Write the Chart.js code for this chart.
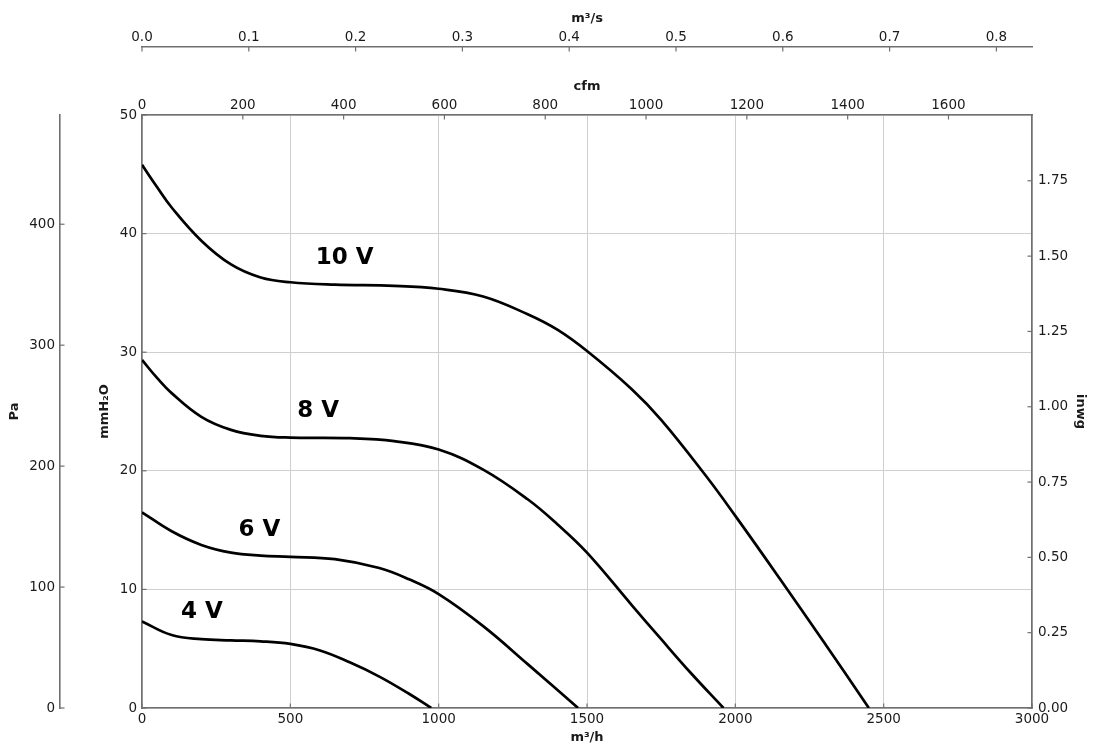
<!DOCTYPE html>
<html>
<head>
<meta charset="utf-8">
<title>Fan curves</title>
<script src="https://cdn.jsdelivr.net/npm/chart.js@4.4.0/dist/chart.umd.min.js"></script>
<style>
  html, body { margin: 0; padding: 0; background: #fff; overflow: hidden; }
  #wrap { width: 1096px; height: 749px; }
</style>
</head>
<body>
<div id="wrap"><canvas id="fanChart"></canvas></div>
<script>
// airflow in m³/h, static pressure in mmH2O
const flow10 = [0, 50, 100, 200, 300, 400, 500, 650, 850, 1000, 1150, 1300, 1400, 1500, 1650, 1750, 1900, 2000, 2150, 2300, 2450];
const pres10 = [45.8, 43.95, 42.2, 39.4, 37.4, 36.3, 35.9, 35.7, 35.6, 35.35, 34.7, 33.2, 31.9, 30.1, 26.9, 24.3, 19.6, 16.2, 10.9, 5.5, 0];

const flow8 = [0, 50, 100, 200, 300, 400, 500, 700, 850, 1000, 1150, 1300, 1400, 1500, 1650, 1750, 1850, 1960];
const pres8 = [29.35, 27.85, 26.55, 24.55, 23.45, 22.95, 22.8, 22.75, 22.5, 21.8, 20.1, 17.6, 15.5, 13.1, 8.7, 5.8, 2.95, 0];

const flow6 = [0, 100, 200, 300, 400, 500, 650, 800, 900, 1000, 1150, 1300, 1470];
const pres6 = [16.5, 14.9, 13.75, 13.1, 12.85, 12.75, 12.55, 11.8, 10.85, 9.6, 6.9, 3.7, 0];

const flow4 = [0, 100, 200, 300, 400, 500, 600, 700, 800, 900, 975];
const pres4 = [7.3, 6.15, 5.8, 5.7, 5.62, 5.4, 4.85, 3.85, 2.65, 1.2, 0];

const curveNames = ["10 V", "8 V", "6 V", "4 V"];
const labelFlow = [683, 594, 396, 202];
const labelPres = [37.9, 25.0, 15.0, 8.1];

// tick labels of each axis
const flowTicks = [0, 500, 1000, 1500, 2000, 2500, 3000];
const cfmTicks = [0, 200, 400, 600, 800, 1000, 1200, 1400, 1600];
const m3sTicks = [0, 0.1, 0.2, 0.3, 0.4, 0.5, 0.6, 0.7, 0.8];
const mmTicks = [0, 10, 20, 30, 40, 50];
const paTicks = [0, 100, 200, 300, 400];
const inwgTicks = [0, 0.25, 0.5, 0.75, 1, 1.25, 1.5, 1.75];

// axis ranges
const flowMax = 3000;
const presMax = 50;
const PA_PER_MM = 9.80665;
const MM_PER_INWG = 25.4;
const M3H_PER_CFM = 1.699011;

const frameColor = "#707070";
const gridColor = "#cfcfcf";
const titleFont = { size: 13, weight: "bold" };

Chart.defaults.font.family = "'DejaVu Sans', sans-serif";
Chart.defaults.font.size = 13.5;
Chart.defaults.color = "#1a1a1a";

function points(xs, ys) {
  return xs.map((x, i) => ({ x: x, y: ys[i] }));
}

function fixedTicks(list) {
  return scale => { scale.ticks = list.map(v => ({ value: v })); };
}

// inward tick marks like the original
const tickMarks = {
  id: "tickMarks",
  afterDraw(chart) {
    const ctx = chart.ctx;
    const len = 4.5;
    ctx.save();
    ctx.strokeStyle = frameColor;
    ctx.lineWidth = 1.2;
    Object.values(chart.scales).forEach(scale => {
      const pos = scale.options.position;
      scale.ticks.forEach(t => {
        const p = scale.getPixelForValue(t.value);
        ctx.beginPath();
        if (pos === "bottom") { ctx.moveTo(p, scale.top); ctx.lineTo(p, scale.top - len); }
        else if (pos === "top") { ctx.moveTo(p, scale.bottom); ctx.lineTo(p, scale.bottom + len); }
        else if (pos === "left") { ctx.moveTo(scale.right, p); ctx.lineTo(scale.right + len, p); }
        else { ctx.moveTo(scale.left, p); ctx.lineTo(scale.left - len, p); }
        ctx.stroke();
      });
    });
    ctx.restore();
  }
};

// voltage labels next to each curve
const curveLabels = {
  id: "curveLabels",
  afterDatasetsDraw(chart) {
    const { ctx, scales: { x, y } } = chart;
    ctx.save();
    ctx.font = "bold 23px 'DejaVu Sans', sans-serif";
    ctx.fillStyle = "#000";
    ctx.textAlign = "center";
    ctx.textBaseline = "middle";
    curveNames.forEach((name, i) => {
      ctx.fillText(name, x.getPixelForValue(labelFlow[i]), y.getPixelForValue(labelPres[i]));
    });
    ctx.restore();
  }
};

function curve(data) {
  return {
    data: data,
    xAxisID: "x",
    yAxisID: "y",
    borderColor: "#000",
    borderWidth: 2.7,
    pointRadius: 0,
    fill: false,
    tension: 0.4
  };
}

const border = { display: true, color: frameColor, width: 1.6 };
const noGrid = { display: false, drawTicks: false };

new Chart(document.getElementById("fanChart"), {
  type: "line",
  data: {
    datasets: [
      curve(points(flow10, pres10)),
      curve(points(flow8, pres8)),
      curve(points(flow6, pres6)),
      curve(points(flow4, pres4))
    ]
  },
  options: {
    responsive: true,
    maintainAspectRatio: false,
    animation: false,
    layout: { padding: 0 },
    plugins: { legend: { display: false }, tooltip: { enabled: false } },
    scales: {
      x: {
        type: "linear", axis: "x", position: "bottom", weight: 0,
        min: 0, max: flowMax,
        afterBuildTicks: fixedTicks(flowTicks),
        ticks: { padding: 3, maxRotation: 0, autoSkip: false, callback: v => String(v) },
        grid: { color: gridColor, lineWidth: 1, drawTicks: false },
        border: border,
        title: { display: true, text: "m³/h", font: titleFont, padding: { top: 0, bottom: 3.9 } },
        afterFit: s => { s.height = 41; }
      },
      xCfm: {
        type: "linear", axis: "x", position: "top", weight: 0,
        min: 0, max: flowMax / M3H_PER_CFM,
        afterBuildTicks: fixedTicks(cfmTicks),
        ticks: { padding: 1, maxRotation: 0, autoSkip: false, callback: v => String(v) },
        grid: noGrid,
        border: border,
        title: { display: true, text: "cfm", font: titleFont, padding: { top: 31.9, bottom: 0 } },
        afterFit: s => { s.height = 68; }
      },
      xM3s: {
        type: "linear", axis: "x", position: "top", weight: 1,
        min: 0, max: flowMax / 3600,
        afterBuildTicks: fixedTicks(m3sTicks),
        ticks: { padding: 1, maxRotation: 0, autoSkip: false, callback: v => v.toFixed(1) },
        grid: noGrid,
        border: border,
        title: { display: true, text: "m³/s", font: titleFont, padding: { top: 10.5, bottom: 0 } },
        afterFit: s => { s.height = 47; }
      },
      y: {
        type: "linear", axis: "y", position: "left", weight: 0,
        min: 0, max: presMax,
        afterBuildTicks: fixedTicks(mmTicks),
        ticks: { padding: 5, autoSkip: false, callback: v => String(v) },
        grid: { color: gridColor, lineWidth: 1, drawTicks: false },
        border: border,
        title: { display: true, text: "mmH₂O", font: titleFont, padding: { top: 37.2, bottom: 0 } },
        afterFit: s => { s.width = 82; }
      },
      yPa: {
        type: "linear", axis: "y", position: "left", weight: 1,
        min: 0, max: presMax * PA_PER_MM,
        afterBuildTicks: fixedTicks(paTicks),
        ticks: { padding: 5, autoSkip: false, callback: v => String(v) },
        grid: noGrid,
        border: border,
        title: { display: true, text: "Pa", font: titleFont, padding: { top: 7.2, bottom: 0 } },
        afterFit: s => { s.width = 60; }
      },
      yIn: {
        type: "linear", axis: "y", position: "right", weight: 0,
        min: 0, max: presMax / MM_PER_INWG,
        afterBuildTicks: fixedTicks(inwgTicks),
        ticks: { padding: 6, autoSkip: false, callback: v => v.toFixed(2) },
        grid: noGrid,
        border: border,
        title: { display: true, text: "inwg", font: titleFont, padding: { top: 8.2, bottom: 0 } },
        afterFit: s => { s.width = 64; }
      }
    }
  },
  plugins: [tickMarks, curveLabels]
});
</script>
</body>
</html>
